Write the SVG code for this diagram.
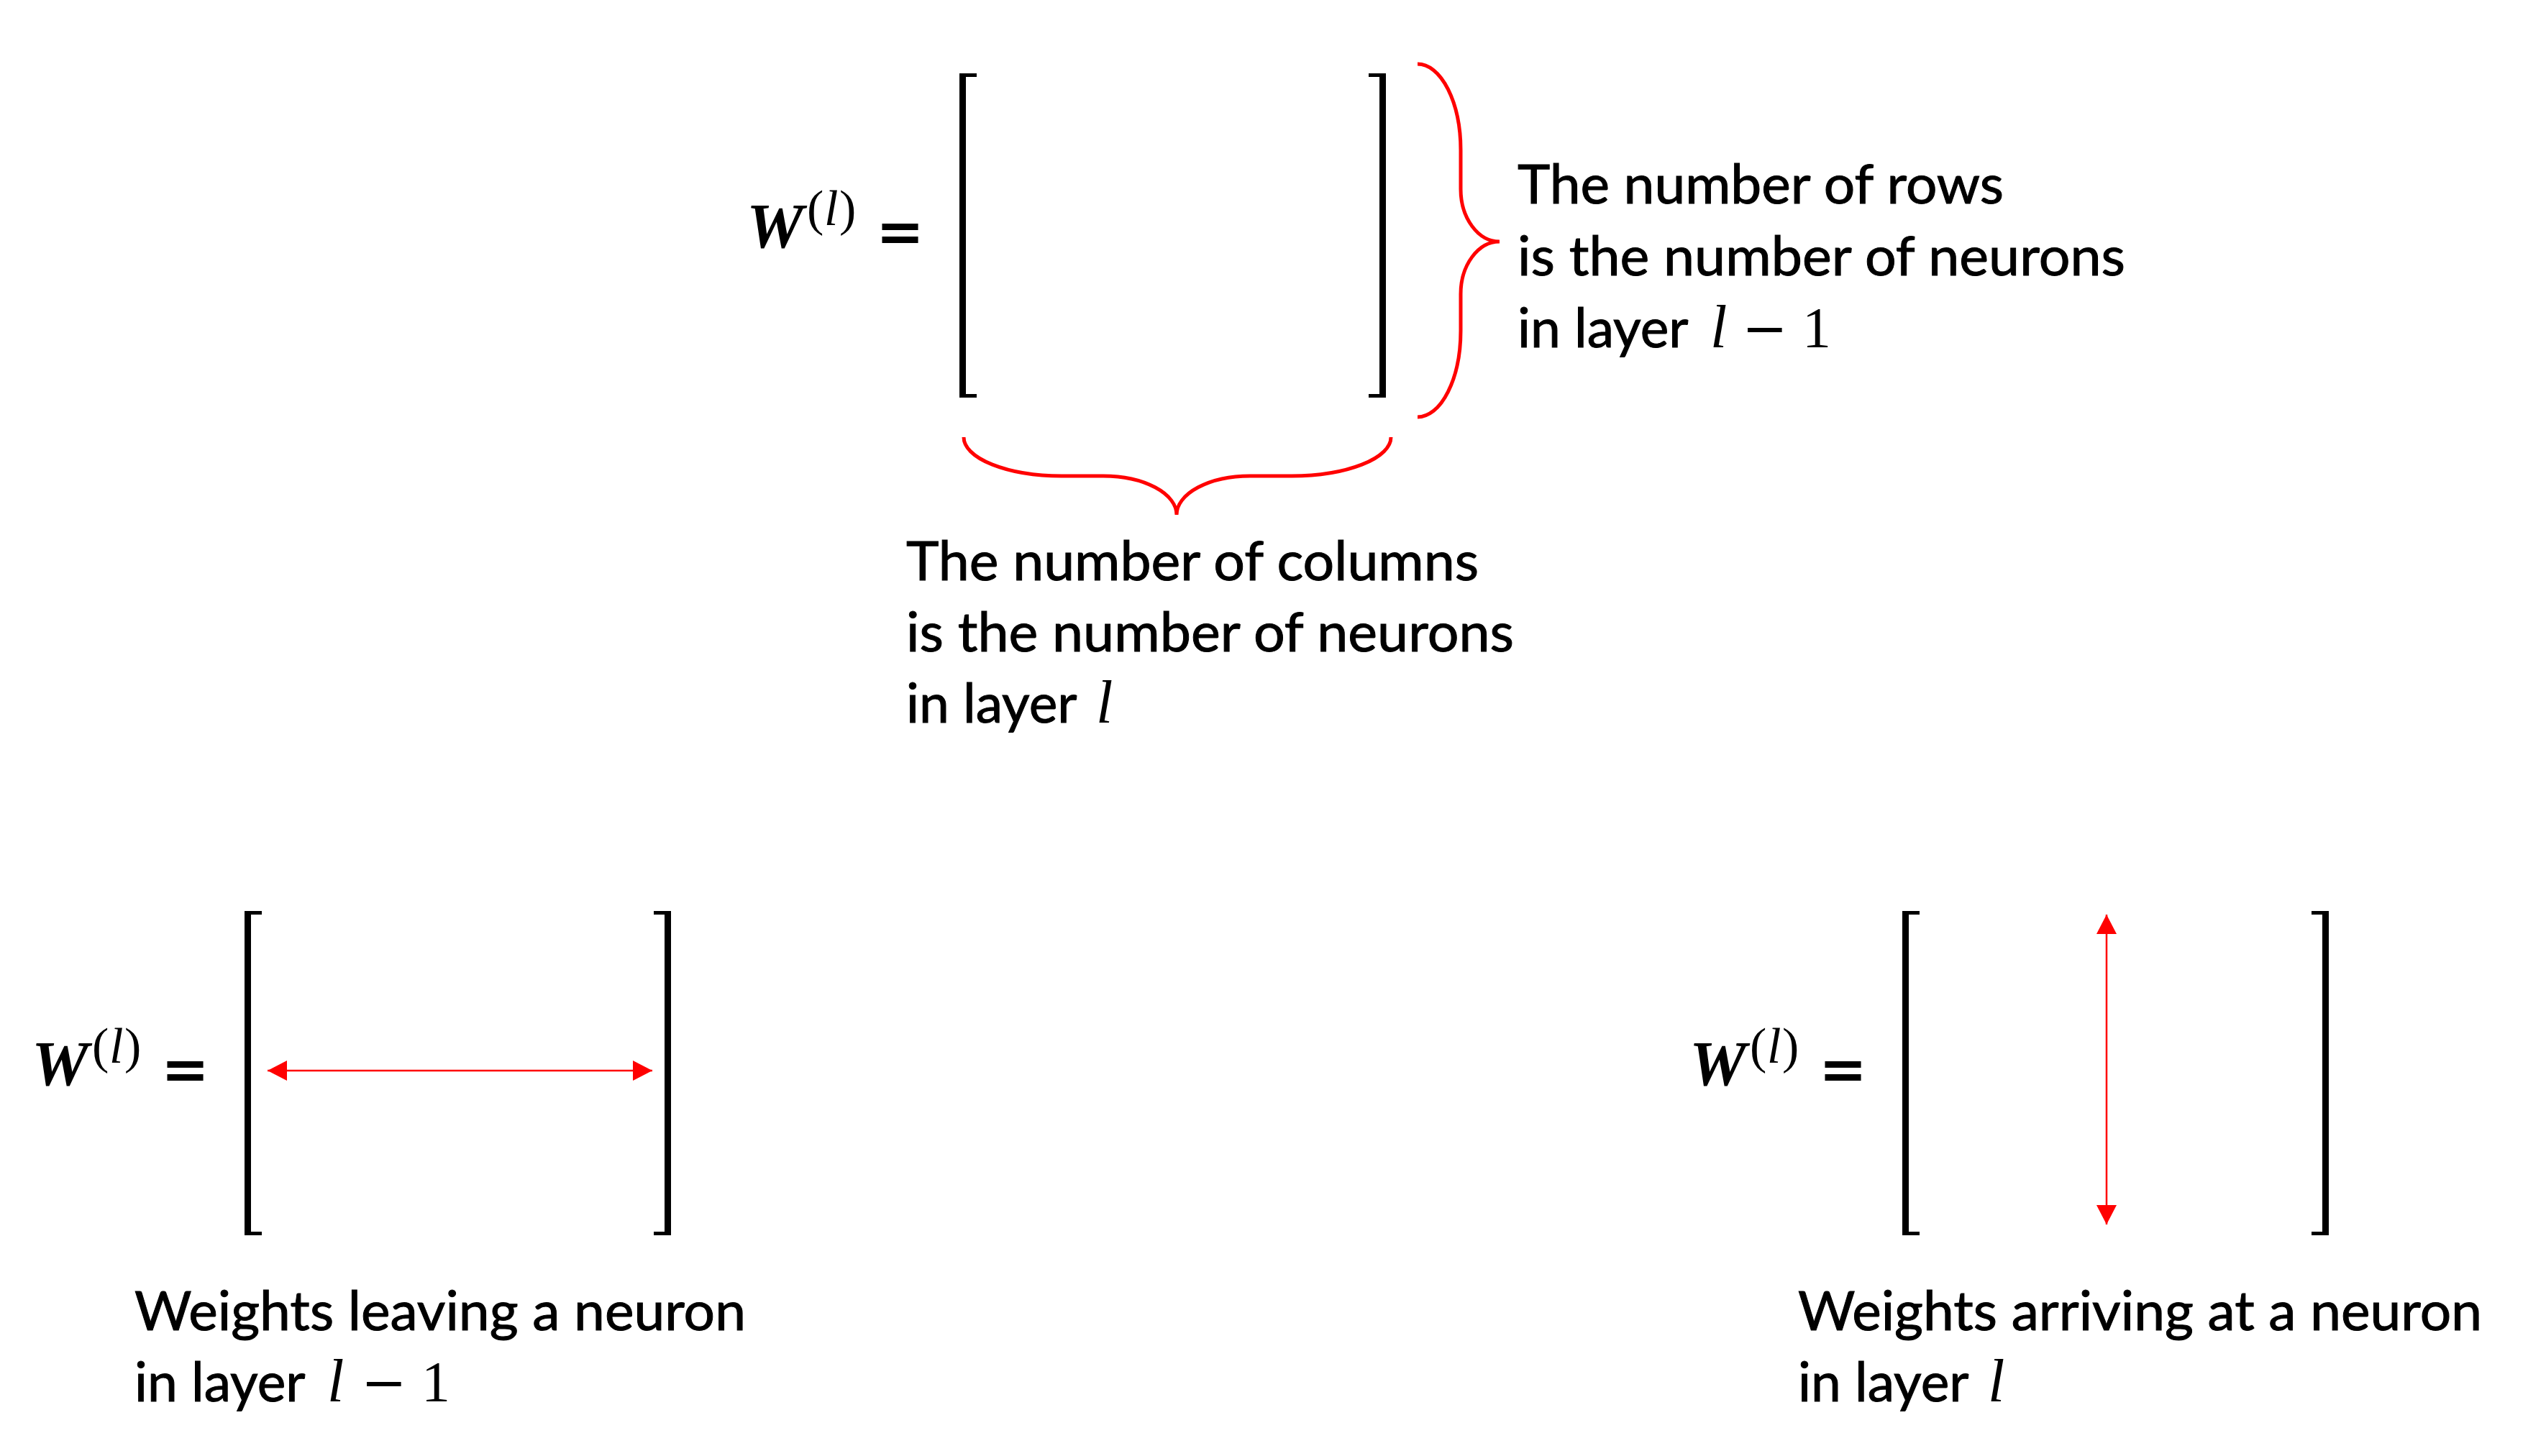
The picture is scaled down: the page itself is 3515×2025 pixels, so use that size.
<svg xmlns="http://www.w3.org/2000/svg" width="3515" height="2025" viewBox="0 0 3515 2025">
<style>
.bk { fill: #000; }
.lbl { font-family: Lato, "Liberation Sans", sans-serif; font-size: 75px; fill: #000; stroke: #000; stroke-width: 1; }
.W { font-family: "Liberation Serif", serif; font-size: 89px; font-weight: bold; font-style: italic; fill: #000; }
.sup { font-family: "Liberation Serif", serif; font-size: 70px; fill: #000; }
.eq { font-family: "DejaVu Serif", serif; font-size: 80px; font-weight: bold; fill: #000; }
.mi { font-family: "Liberation Serif", serif; font-style: italic; font-size: 84px; stroke: none; }
.mo { font-family: "DejaVu Serif", serif; font-size: 76px; stroke: none; }
.mn { font-family: "Liberation Serif", serif; font-size: 80px; stroke: none; }
.brace { fill: none; stroke: #FF0000; stroke-width: 5; }
.arr { stroke: #FF0000; stroke-width: 2.5; fill: none; }
</style>
<defs>
<marker id="ah" markerUnits="userSpaceOnUse" markerWidth="28" markerHeight="28" refX="27" refY="14" orient="auto-start-reverse">
<path d="M0,0 L27,14 L0,28 Z" fill="#FF0000"/>
</marker>
</defs>
<rect width="3515" height="2025" fill="#FFFFFF"/>

<g id="matrix-top">
<text class="W" x="1038" y="344">W</text>
<text class="sup" y="313"><tspan x="1122">(</tspan><tspan x="1146" font-style="italic">l</tspan><tspan x="1167">)</tspan></text>
<text class="eq" x="1218" y="350">=</text>
<rect class="bk" x="1334" y="102" width="9" height="451"/>
<rect class="bk" x="1334" y="102" width="24" height="5"/>
<rect class="bk" x="1334" y="548" width="24" height="5"/>
<rect class="bk" x="1918" y="102" width="9" height="451"/>
<rect class="bk" x="1903" y="102" width="24" height="5"/>
<rect class="bk" x="1903" y="548" width="24" height="5"/>
</g>

<g id="rows-label">
<text class="lbl" x="2110" y="283" textLength="676" lengthAdjust="spacingAndGlyphs">The number of rows</text>
<text class="lbl" x="2110" y="383" textLength="845" lengthAdjust="spacingAndGlyphs">is the number of neurons</text>
<text class="lbl" y="483"><tspan x="2110">in layer</tspan><tspan class="mi" x="2378">l</tspan><tspan class="mo" x="2422">−</tspan><tspan class="mn" x="2506">1</tspan></text>
</g>

<g id="columns-label">
<text class="lbl" x="1260" y="807" textLength="796" lengthAdjust="spacingAndGlyphs">The number of columns</text>
<text class="lbl" x="1260" y="906" textLength="845" lengthAdjust="spacingAndGlyphs">is the number of neurons</text>
<text class="lbl" y="1005"><tspan x="1260">in layer</tspan><tspan class="mi" x="1524">l</tspan></text>
</g>

<g id="matrix-left" transform="translate(-994,1165)">
<text class="W" x="1038" y="344">W</text>
<text class="sup" y="313"><tspan x="1122">(</tspan><tspan x="1146" font-style="italic">l</tspan><tspan x="1167">)</tspan></text>
<text class="eq" x="1218" y="350">=</text>
<rect class="bk" x="1334" y="102" width="9" height="451"/>
<rect class="bk" x="1334" y="102" width="24" height="5"/>
<rect class="bk" x="1334" y="548" width="24" height="5"/>
<rect class="bk" x="1918" y="102" width="9" height="451"/>
<rect class="bk" x="1903" y="102" width="24" height="5"/>
<rect class="bk" x="1903" y="548" width="24" height="5"/>
</g>

<g id="leaving-label">
<text class="lbl" x="187" y="1850" textLength="850" lengthAdjust="spacingAndGlyphs">Weights leaving a neuron</text>
<text class="lbl" y="1949"><tspan x="187">in layer</tspan><tspan class="mi" x="455">l</tspan><tspan class="mo" x="502">−</tspan><tspan class="mn" x="586">1</tspan></text>
</g>

<g id="matrix-right" transform="translate(1311,1165)">
<text class="W" x="1038" y="344">W</text>
<text class="sup" y="313"><tspan x="1122">(</tspan><tspan x="1146" font-style="italic">l</tspan><tspan x="1167">)</tspan></text>
<text class="eq" x="1218" y="350">=</text>
<rect class="bk" x="1334" y="102" width="9" height="451"/>
<rect class="bk" x="1334" y="102" width="24" height="5"/>
<rect class="bk" x="1334" y="548" width="24" height="5"/>
<rect class="bk" x="1918" y="102" width="9" height="451"/>
<rect class="bk" x="1903" y="102" width="24" height="5"/>
<rect class="bk" x="1903" y="548" width="24" height="5"/>
</g>

<g id="arriving-label">
<text class="lbl" x="2500" y="1850" textLength="951" lengthAdjust="spacingAndGlyphs">Weights arriving at a neuron</text>
<text class="lbl" y="1949"><tspan x="2500">in layer</tspan><tspan class="mi" x="2764">l</tspan></text>
</g>

<g id="connectors">
<path class="brace" d="M1971,89 A60,120 0 0 1 2031,209 L2031,263 A54,73 0 0 0 2085,336 A54,73 0 0 0 2031,409 L2031,460 A60,120 0 0 1 1971,580"/>
<path class="brace" d="M1340,608 A136,54 0 0 0 1476,662 L1534,662 A102,54 0 0 1 1636,716 A102,54 0 0 1 1738,662 L1796,662 A138,54 0 0 0 1934,608"/>
<line class="arr" x1="372" y1="1489" x2="907" y2="1489" marker-start="url(#ah)" marker-end="url(#ah)"/>
<line class="arr" x1="2929" y1="1272" x2="2929" y2="1703" marker-start="url(#ah)" marker-end="url(#ah)"/>
</g>
</svg>
